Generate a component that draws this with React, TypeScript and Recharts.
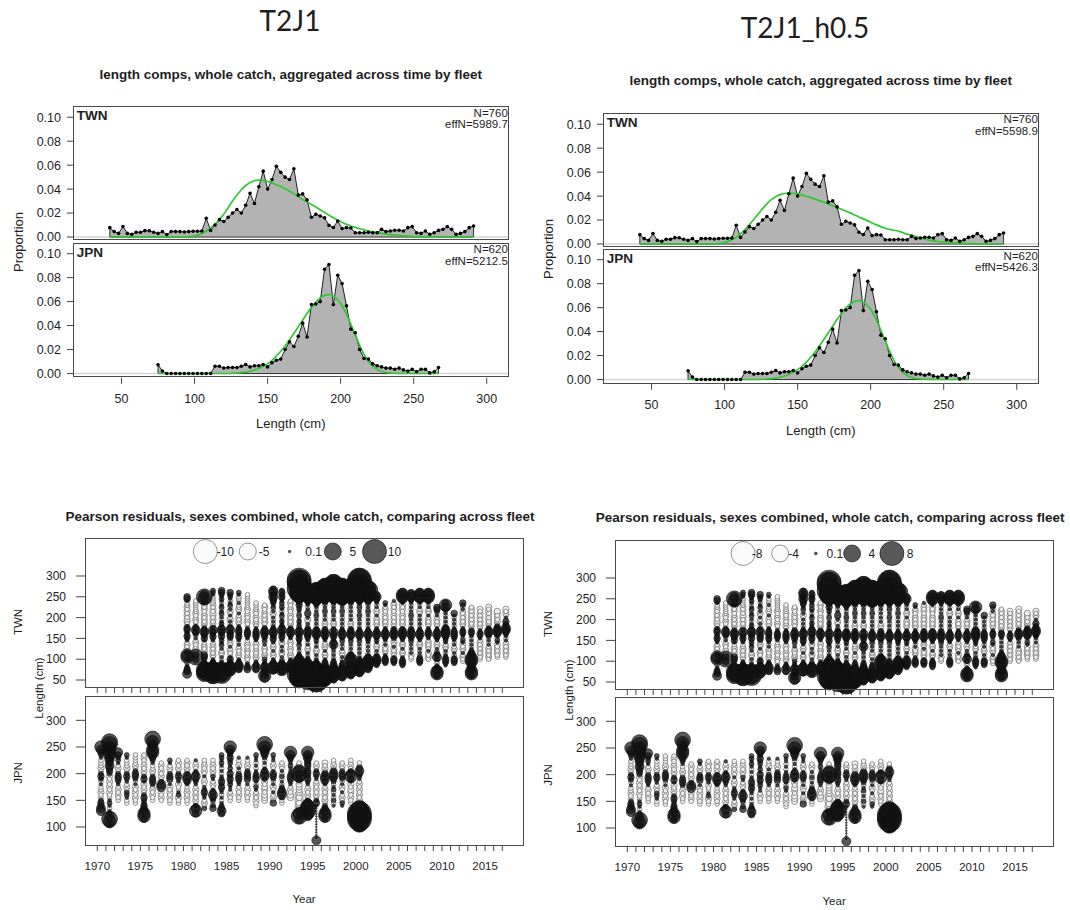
import React from "react";
import {
  Area,
  ComposedChart,
  Line,
  ReferenceLine,
  Scatter,
  ScatterChart,
  XAxis,
  YAxis,
  ZAxis,
} from "recharts";

const FONT = '"Liberation Sans", Arial, Helvetica, sans-serif';
const INK = "#1e1e1e";

// ---------- aggregated length comps (3 cm bins) ----------
const TWN_BINS = [
  42, 45, 48, 51, 54, 57, 60, 63, 66, 69, 72, 75, 78, 81, 84, 87, 90, 93, 96, 99,
  102, 105, 108, 111, 114, 117, 120, 123, 126, 129, 132, 135, 138, 141, 144, 147, 150, 153, 156, 159,
  162, 165, 168, 171, 174, 177, 180, 183, 186, 189, 192, 195, 198, 201, 204, 207, 210, 213, 216, 219,
  222, 225, 228, 231, 234, 237, 240, 243, 246, 249, 252, 255, 258, 261, 264, 267, 270, 273, 276, 279,
  282, 285, 288, 291,
];
const TWN_OBS = [
  0.0078, 0.0045, 0.003, 0.0087, 0.003, 0.0022, 0.004, 0.004, 0.0053, 0.0052,
  0.004, 0.003, 0.0045, 0.002, 0.0045, 0.0045, 0.0045, 0.0042, 0.0045, 0.0048,
  0.0048, 0.005, 0.0156, 0.0055, 0.01, 0.0145, 0.013, 0.0165, 0.02, 0.023,
  0.02, 0.0265, 0.0365, 0.028, 0.042, 0.055, 0.04, 0.048, 0.059, 0.054,
  0.05, 0.048, 0.057, 0.035, 0.036, 0.031, 0.0165, 0.019, 0.0176, 0.016,
  0.0098, 0.008, 0.0134, 0.007, 0.0078, 0.0075, 0.0036, 0.0036, 0.0036, 0.004,
  0.0036, 0.0036, 0.0064, 0.0045, 0.005, 0.0056, 0.0056, 0.005, 0.0078, 0.0087,
  0.0036, 0.003, 0.005, 0.0022, 0.0036, 0.0055, 0.0064, 0.0087, 0.0064, 0.0022,
  0.003, 0.0045, 0.0078, 0.0092,
];
// expected, run T2J1
const TWN_EXP_A = [
  0, 0, 0, 0, 0, 0, 0, 0, 0, 0,
  0, 0, 0, 0, 0, 0, 0, 0.0002, 0.0004, 0.0008,
  0.0016, 0.003, 0.005, 0.0075, 0.0105, 0.0145, 0.019, 0.0245, 0.03, 0.035,
  0.0395, 0.043, 0.0455, 0.047, 0.0475, 0.0472, 0.0465, 0.0452, 0.0437, 0.0421,
  0.0402, 0.0382, 0.036, 0.0337, 0.0312, 0.0295, 0.0272, 0.025, 0.0228, 0.0205,
  0.0182, 0.016, 0.014, 0.0122, 0.0106, 0.0092, 0.008, 0.0069, 0.0059, 0.005,
  0.0043, 0.0036, 0.003, 0.0025, 0.002, 0.0016, 0.0013, 0.001, 0.0008, 0.0006,
  0.0004, 0.0003, 0.0002, 0.0001, 0, 0, 0, 0, 0, 0,
  0, 0, 0, 0,
];
// expected, run T2J1_h0.5
const TWN_EXP_B = [
  0, 0, 0, 0, 0, 0, 0, 0, 0, 0,
  0, 0, 0, 0, 0, 0, 0, 0.0002, 0.0005, 0.001,
  0.002, 0.0035, 0.0055, 0.0085, 0.012, 0.016, 0.0205, 0.025, 0.0295, 0.0335,
  0.037, 0.0395, 0.0412, 0.0422, 0.0425, 0.0424, 0.0418, 0.041, 0.0399, 0.0387,
  0.0375, 0.0362, 0.0348, 0.0334, 0.032, 0.0305, 0.029, 0.0275, 0.026, 0.0243,
  0.0226, 0.021, 0.0193, 0.0176, 0.016, 0.0145, 0.0132, 0.0122, 0.0115, 0.0108,
  0.0095, 0.0082, 0.0075, 0.0062, 0.005, 0.004, 0.0032, 0.0026, 0.0021, 0.0017,
  0.0014, 0.0011, 0.0009, 0.0007, 0.0005, 0.0004, 0.0003, 0.0002, 0.0001, 0,
  0, 0, 0, 0,
];

const JPN_BINS = [
  75, 78, 81, 84, 87, 90, 93, 96, 99, 102, 105, 108, 111, 114, 117, 120, 123, 126, 129, 132,
  135, 138, 141, 144, 147, 150, 153, 156, 159, 162, 165, 168, 171, 174, 177, 180, 183, 186, 189, 192,
  195, 198, 201, 204, 207, 210, 213, 216, 219, 222, 225, 228, 231, 234, 237, 240, 243, 246, 249, 252,
  255, 258, 261, 264, 267,
];
const JPN_OBS = [
  0.0073, 0.002, 0, 0, 0, 0, 0, 0, 0, 0,
  0, 0, 0, 0.006, 0.006, 0.0045, 0.005, 0.005, 0.005, 0.006,
  0.0075, 0.0055, 0.0065, 0.0065, 0.0075, 0.0055, 0.009, 0.011, 0.012, 0.02,
  0.0265, 0.0225, 0.031, 0.042, 0.0305, 0.0575, 0.058, 0.06, 0.087, 0.091,
  0.0575, 0.082, 0.075, 0.0565, 0.037, 0.034, 0.02, 0.0125, 0.012, 0.008,
  0.0065, 0.0055, 0.0045, 0.0045, 0.0035, 0.0045, 0.003, 0.002, 0.0035, 0.0015,
  0.0035, 0.0035, 0.0005, 0.0015, 0.005,
];
const JPN_EXP = [
  0, 0, 0, 0, 0, 0, 0, 0, 0, 0,
  0, 0, 0, 0, 0, 0, 0, 0.0002, 0.0004, 0.0007,
  0.0012, 0.0019, 0.0029, 0.0042, 0.006, 0.0082, 0.011, 0.0145, 0.0185, 0.023,
  0.028, 0.0335, 0.039, 0.0445, 0.05, 0.055, 0.0595, 0.063, 0.0652, 0.0658,
  0.0645, 0.0615, 0.0565, 0.0495, 0.041, 0.032, 0.0235, 0.016, 0.0102, 0.006,
  0.0033, 0.0017, 0.0008, 0.0004, 0.0002, 0.0001, 0, 0, 0, 0,
  0, 0, 0, 0, 0,
];

// ---------- Pearson residuals ----------
// one string per year, one code per 5 cm bin (spaces only group the bins by 10)
// '.' none, '0'..'8' positive (growing), 'a'..'g' negative (growing)
const CODE_FRAC: Record<string, number> = {
  "0": 0.006, "1": 0.025, "2": 0.05, "3": 0.09, "4": 0.17, "5": 0.32, "6": 0.52, "7": 0.8, "8": 1.2,
  a: -0.045, b: -0.08, c: -0.14, d: -0.25, e: -0.4, f: -0.6, g: -0.9,
};

const TWN_YEARS = [
  1980, 1981, 1982, 1983, 1984, 1985, 1986, 1987, 1988, 1989, 1990, 1991, 1992, 1993, 1994, 1995,
  1996, 1997, 1998, 1999, 2000, 2001, 2002, 2003, 2004, 2005, 2006, 2007, 2008, 2009, 2010, 2011,
  2012, 2013, 2014, 2015, 2016, 2017,
];
const TWN_LEN_START = 45;
const TWN_RESID = [
  "....43321a a2552ababa 12321331ab babababaa1 33........ .",
  ".......... a363aabaab a1a23431aa baabaaaaaa .......... .",
  "...4666542 1233ababaa 1323432aba babaabab13 564....... .",
  "..36776543 21abababaa 1232342aba babbababaa aa122..... .",
  "...5775432 1a1aba1a21 2132343121 a1a21a21a1 21233..... .",
  ".....45543 231aaba1ab a2332431a1 ba1ab1a21a 1223...... .",
  "......3443 21abaaba1a 12323321ab aba1abaa1a aa12...... .",
  "......3321 aabaabaaba a123321aab aabaabaaaa aaa....... .",
  "......3432 1abaabaaba 1233321aba abaabaaaa. .......... .",
  "..45433432 12abaaba1a 2133432aab ababaaba.. .......... .",
  ".....24543 21aba1aba1 23234321a1 a1ab1a2123 343442.... .",
  ".....35543 2a1ab1a1ab 1232343212 1a21a12a21 23232..... .",
  "......3443 21abaabaab a123432aba babaabaaba .......... .",
  "4677877665 54321a1a21 2323431212 1a2a121323 4567787788 6",
  "5778776554 321a1aba1a 1233432a1a b1a3a1a123 455665.... .",
  "7887765543 21a1aba1a1 2134431a1a 1a2a1a1234 566765.... .",
  "4566554433 21aba1abaa 1234331aba 1a1a2a1a23 45677765.. .",
  ".345554433 21a1a1a243 1233421aba 1a1a2a1a23 456788776. .",
  "..34544332 1a1aba1a1a 2134321a1a 1a1a2a1a24 56777765.. .",
  "...3455444 55431a1a1a 2134331aba 1a1a1a1a23 45666655.. .",
  "....345544 321a1a1a1a 2134321a1a 1a2a1a2a23 4556677788 7",
  "......3445 5431a1a1a1 2234321a1a 1a1a2a1a23 4566765... .",
  "........23 4431a1aba1 2134321aba ba1aba1a12 343....... .",
  ".........2 3321abab1a 1234321aba babaaba12. .......... .",
  ".........2 331abab1ab a234331aba babaababa1 .......... .",
  "........23 321aba1aba 1234431aba babaabab12 4554...... .",
  ".......... .aab1a1a1a 2234331a1a 1a2a1a1a12 3443...... .",
  ".........2 332a1a1aba 1234321a1a 1a1aba1a12 4554...... .",
  ".......... .abab1abab a123321aba ba1aba1a12 4554...... .",
  "...355421a a2432a1aba 1234321aba ba1a233... .......... .",
  "........12 3321a1aba1 22344431a1 a1a1a2453. .......... .",
  ".........2 331a1aba1a 1233321a1a 1a13...... .......... .",
  ".......... aaba1abab1 2a12321aba babab1a23. .......... .",
  "...3554434 5544321a1a 1a1232abab abababa... .......... .",
  ".......... .aabababab a12321abab ababab.... .......... .",
  ".......... .abababa1a 1a23432aba bababab... .......... .",
  ".......... ..aababab1 2a134432ab ababb..... .......... .",
  ".......... ..aabababa 1a12344323 a1abab.... .......... .",
];

const JPN_YEARS = [
  1970, 1971, 1972, 1973, 1974, 1975, 1976, 1977, 1978, 1979, 1980, 1981, 1982, 1983, 1984, 1985,
  1986, 1987, 1988, 1989, 1990, 1991, 1992, 1993, 1994, 1995, 1996, 1997, 1998, 1999, 2000,
];
const JPN_LEN_START = 75;
const JPN_RESID = [
  ".......... .44332aaba a1a232abaa a12345....",
  "......3564 21a121aaba babab23343 44555566..",
  ".......... .....aabab a12332aba1 2234......",
  ".......... ....aa122a ba1232abaa a12.......",
  ".......... ....aababa b1a2332aba aaa.......",
  "........35 54332232ab ab132ababa aba.......",
  ".......... .....aabab a2332abaa1 234554456.",
  ".......... .....ababa 442abababa ..........",
  ".......... ....aababa b1a332aba1 2.........",
  ".......... ....aab21a ab1232abab a.........",
  ".......... ....aababa a13442abab a.........",
  ".......... 3542ababab a123431aba 1.........",
  ".......... ..2aba1232 1aba1ababa a.........",
  ".......... ..32a23431 aba12ababa a.........",
  ".......... 34321a1a12 32321a1a12 122.......",
  ".......... .....aaba1 1223231212 232345....",
  ".......... .....aabab a12332a1ba a1........",
  ".......... .....aabab a1a3332aba a1........",
  ".......... ...aababa1 2a13321a1a 112.......",
  ".......... .....bbbab bab24431a1 a234456...",
  ".......... ....3aba1a b1a2331aba 112.......",
  ".......... ....aa2443 2a1a2a1aba ..........",
  ".......... ......bbab a123321121 2345......",
  "........46 53bcbcbcbb bba3565bba ..........",
  ".........4 566542abab a123233233 3445......",
  "4000000000 000132abab aba1232aba ..........",
  "........35 5432ababab a13443abab ..........",
  ".......... ...1a2a1a2 1a23443aba a.........",
  ".......... ...12aba1a b1a2332aba ..........",
  ".......... ....aababb ab13542aba a.........",
  ".....46788 8763bbabab aba12343aa ..........",
];
const LEN_STEP = 5;
const SEASON = 0.42; // fleet timing inside the year

const YEAR_TICKS = [
  1970, 1971, 1972, 1973, 1974, 1975, 1976, 1977, 1978, 1979, 1980, 1981, 1982, 1983, 1984, 1985,
  1986, 1987, 1988, 1989, 1990, 1991, 1992, 1993, 1994, 1995, 1996, 1997, 1998, 1999, 2000, 2001,
  2002, 2003, 2004, 2005, 2006, 2007, 2008, 2009, 2010, 2011, 2012, 2013, 2014, 2015, 2016, 2017,
];
const YEAR_LABELS = [1970, 1975, 1980, 1985, 1990, 1995, 2000, 2005, 2010, 2015];
const LEGEND_A = [-10, -5, 0.1, 5, 10];
const LEGEND_B = [-8, -4, 0.1, 4, 8];

// ---------- layout ----------
const LC_X_DOMAIN: [number, number] = [16.8, 315.3];
const LC_X_TICKS = [50, 100, 150, 200, 250, 300];
const LC_Y_TICKS = [0, 0.02, 0.04, 0.06, 0.08, 0.1];
const LC = { x: 72.7, w: 436.1, twnY: 106, twnH: 134, jpnY: 242.5, jpnH: 134.8 };
const LC_TWN_DOMAIN: [number, number] = [-0.0025, 0.1094];
const LC_JPN_DOMAIN: [number, number] = [-0.0036, 0.1089];
const Y_W = 50;
const PAD = 8;

const BB = { x: 84.7, w: 439.7, twnY: 538, twnH: 150, jpnY: 695.7, jpnH: 150 };
const BB_X_DOMAIN: [number, number] = [1968.57, 2019.6];
const TWN_Y_DOMAIN: [number, number] = [30.8, 391.3];
const JPN_Y_DOMAIN: [number, number] = [64.4, 345.6];
const TWN_Y_TICKS = [50, 100, 150, 200, 250, 300];
const JPN_Y_TICKS = [100, 150, 200, 250, 300];
const BY_W = 70;
const AREA_MAX = Math.PI * 12 * 12;

type Pt = { x: number; y: number; size: number };

function buildBubbles(years: number[], rows: string[], start: number, maxResid: number) {
  const pos: Pt[] = [];
  const neg: Pt[] = [];
  years.forEach((yr, i) => {
    const codes = rows[i].replace(/ /g, "");
    for (let k = 0; k < codes.length; k++) {
      const f = CODE_FRAC[codes[k]];
      if (f === undefined) continue;
      const p = { x: yr + SEASON, y: start + LEN_STEP * k, size: Math.abs(f) * maxResid };
      (f > 0 ? pos : neg).push(p);
    }
  });
  pos.sort((a, b) => b.size - a.size);
  neg.sort((a, b) => b.size - a.size);
  return { pos, neg };
}

type TxtProps = {
  x: number;
  y: number;
  children: React.ReactNode;
  size?: number;
  bold?: boolean;
  anchor?: "start" | "middle" | "end";
  rotate?: boolean;
  font?: string;
};

function Txt({ x, y, children, size = 12, bold = false, anchor = "middle", rotate = false, font = FONT }: TxtProps) {
  const tx = anchor === "middle" ? "-50%" : anchor === "end" ? "-100%" : "0";
  return (
    <div
      style={{
        position: "absolute",
        left: x,
        top: y,
        transform: `translate(${tx}, -50%)${rotate ? " rotate(-90deg)" : ""}`,
        fontFamily: font,
        fontSize: size,
        fontWeight: bold ? 700 : 400,
        color: INK,
        whiteSpace: "nowrap",
        lineHeight: 1,
      }}
    >
      {children}
    </div>
  );
}

function Frame({ x, y, w, h }: { x: number; y: number; w: number; h: number }) {
  return (
    <div
      style={{
        position: "absolute",
        left: x,
        top: y,
        width: w,
        height: h,
        border: "1px solid #4a4a4a",
        boxSizing: "border-box",
        pointerEvents: "none",
      }}
    />
  );
}

const tickStyle = (size: number) => ({ fill: INK, fontSize: size, fontFamily: FONT });

type CompProps = {
  x: number;
  y: number;
  w: number;
  h: number;
  bins: number[];
  obs: number[];
  exp: number[];
  yDomain: [number, number];
  showX: boolean;
  fleet: string;
  n: string;
  effN: string;
};

function CompPanel(p: CompProps) {
  const data = p.bins.map((len, i) => ({ len, obs: p.obs[i], exp: p.exp[i] }));
  const xh = p.showX ? 34 : 0;
  const first = p.bins[0];
  const last = p.bins[p.bins.length - 1];
  return (
    <>
      <div style={{ position: "absolute", left: p.x - Y_W, top: p.y - PAD }}>
        <ComposedChart
          width={p.w + Y_W}
          height={p.h + xh + 2 * PAD}
          data={data}
          margin={{ top: PAD, right: 0, bottom: PAD, left: 0 }}
        >
          <XAxis
            dataKey="len"
            type="number"
            domain={LC_X_DOMAIN}
            ticks={LC_X_TICKS}
            interval={0}
            allowDataOverflow
            hide={!p.showX}
            height={xh}
            axisLine={false}
            tickSize={6}
            tickMargin={10}
            tickLine={{ stroke: "#444" }}
            tick={tickStyle(12.5)}
          />
          <YAxis
            type="number"
            domain={p.yDomain}
            ticks={LC_Y_TICKS}
            interval={0}
            allowDataOverflow
            width={Y_W}
            axisLine={false}
            tickSize={6}
            tickMargin={6}
            tickLine={{ stroke: "#444" }}
            tick={tickStyle(12.5)}
            tickFormatter={(v: number) => v.toFixed(2)}
          />
          <ReferenceLine y={0} stroke="#d4d4d4" strokeWidth={1.5} />
          <Area
            type="linear"
            dataKey="obs"
            baseValue={0}
            fill="#b3b3b3"
            fillOpacity={1}
            stroke="#202020"
            strokeWidth={1}
            dot={{ r: 1.8, fill: "#000", stroke: "none" }}
            isAnimationActive={false}
          />
          <ReferenceLine segment={[{ x: first, y: 0 }, { x: last, y: 0 }]} stroke="#333" />
          <ReferenceLine segment={[{ x: first, y: 0 }, { x: first, y: p.obs[0] }]} stroke="#333" />
          <ReferenceLine segment={[{ x: last, y: 0 }, { x: last, y: p.obs[p.obs.length - 1] }]} stroke="#333" />
          <Line
            type="monotone"
            dataKey="exp"
            stroke="#2fc82f"
            strokeWidth={1.7}
            dot={false}
            isAnimationActive={false}
          />
        </ComposedChart>
      </div>
      <Frame x={p.x} y={p.y} w={p.w} h={p.h} />
      <Txt x={p.x + 4} y={p.y + 10} size={13.5} bold anchor="start">
        {p.fleet}
      </Txt>
      <Txt x={p.x + p.w - 1} y={p.y + 7.5} size={11.5} anchor="end">
        {p.n}
      </Txt>
      <Txt x={p.x + p.w - 1} y={p.y + 19} size={11.5} anchor="end">
        {p.effN}
      </Txt>
    </>
  );
}

function LengthComps({ dx, dy, twnExp, twnEff, jpnEff }: { dx: number; dy: number; twnExp: number[]; twnEff: string; jpnEff: string }) {
  return (
    <>
      <Txt x={290.8 + dx} y={75 + dy * 0.9} bold size={13.5}>
        length comps, whole catch, aggregated across time by fleet
      </Txt>
      <CompPanel
        x={LC.x + dx}
        y={LC.twnY + dy}
        w={LC.w}
        h={LC.twnH}
        bins={TWN_BINS}
        obs={TWN_OBS}
        exp={twnExp}
        yDomain={LC_TWN_DOMAIN}
        showX={false}
        fleet="TWN"
        n="N=760"
        effN={twnEff}
      />
      <CompPanel
        x={LC.x + dx}
        y={LC.jpnY + dy}
        w={LC.w}
        h={LC.jpnH}
        bins={JPN_BINS}
        obs={JPN_OBS}
        exp={JPN_EXP}
        yDomain={LC_JPN_DOMAIN}
        showX
        fleet="JPN"
        n="N=620"
        effN={jpnEff}
      />
      <Txt x={18 + dx} y={241.7 + dy} size={13} rotate>
        Proportion
      </Txt>
      <Txt x={290.8 + dx} y={423.3 + dy} size={13}>
        Length (cm)
      </Txt>
    </>
  );
}

type BubbleProps = {
  x: number;
  y: number;
  w: number;
  h: number;
  pos: Pt[];
  neg: Pt[];
  yDomain: [number, number];
  yTicks: number[];
  maxResid: number;
  yearLabels: boolean;
};

function BubblePanel(p: BubbleProps) {
  const xh = p.yearLabels ? 32 : 6;
  return (
    <>
      <div style={{ position: "absolute", left: p.x - BY_W, top: p.y }}>
        <ScatterChart width={p.w + BY_W} height={p.h + xh} margin={{ top: 0, right: 0, bottom: 0, left: 0 }}>
          <XAxis
            dataKey="x"
            type="number"
            domain={BB_X_DOMAIN}
            ticks={YEAR_TICKS}
            interval={0}
            height={xh}
            axisLine={false}
            tickSize={5}
            tickMargin={p.yearLabels ? 11 : 0}
            tickLine={{ stroke: "#444" }}
            tick={tickStyle(11.5)}
            tickFormatter={(v: number) => (p.yearLabels && YEAR_LABELS.includes(v) ? String(v) : "")}
          />
          <YAxis
            dataKey="y"
            type="number"
            domain={p.yDomain}
            ticks={p.yTicks}
            interval={0}
            width={BY_W}
            axisLine={false}
            tickSize={9}
            tickMargin={10}
            tickLine={{ stroke: "#444" }}
            tick={tickStyle(12)}
          />
          <ZAxis dataKey="size" type="number" domain={[0, p.maxResid]} range={[0, AREA_MAX]} />
          <Scatter
            data={p.neg}
            shape="circle"
            fill="#f3f3f3"
            fillOpacity={0.85}
            stroke="#777"
            strokeWidth={0.8}
            isAnimationActive={false}
          />
          <Scatter
            data={p.pos}
            shape="circle"
            fill="#111"
            fillOpacity={0.7}
            stroke="#111"
            strokeOpacity={0.8}
            strokeWidth={0.8}
            isAnimationActive={false}
          />
        </ScatterChart>
      </div>
      <Frame x={p.x} y={p.y} w={p.w} h={p.h} />
    </>
  );
}

function BubbleLegend({ x, y, values, maxResid, cxs, txs }: { x: number; y: number; values: number[]; maxResid: number; cxs: number[]; txs: number[] }) {
  return (
    <svg style={{ position: "absolute", left: x, top: y, overflow: "visible" }} width={340} height={30}>
      {values.map((v, i) => {
        const r = Math.sqrt(((Math.abs(v) / maxResid) * AREA_MAX) / Math.PI);
        return (
          <g key={i}>
            <circle
              cx={cxs[i]}
              cy={13.5}
              r={r}
              fill={v > 0 ? "rgba(17,17,17,0.7)" : "#fbfbfb"}
              stroke={v > 0 ? "rgba(17,17,17,0.8)" : "#777"}
              strokeWidth={0.8}
            />
            <text x={txs[i]} y={13.5} dy="0.36em" textAnchor="middle" fontFamily={FONT} fontSize={12} fill={INK}>
              {String(v)}
            </text>
          </g>
        );
      })}
    </svg>
  );
}

function Residuals({ dx, dy, maxResid, legend, cxs, txs }: { dx: number; dy: number; maxResid: number; legend: number[]; cxs: number[]; txs: number[] }) {
  const twn = buildBubbles(TWN_YEARS, TWN_RESID, TWN_LEN_START, maxResid);
  const jpn = buildBubbles(JPN_YEARS, JPN_RESID, JPN_LEN_START, maxResid);
  return (
    <>
      <Txt x={300 + dx} y={516.7 + dy} bold size={13.5}>
        Pearson residuals, sexes combined, whole catch, comparing across fleet
      </Txt>
      <BubblePanel
        x={BB.x + dx}
        y={BB.twnY + dy}
        w={BB.w}
        h={BB.twnH}
        pos={twn.pos}
        neg={twn.neg}
        yDomain={TWN_Y_DOMAIN}
        yTicks={TWN_Y_TICKS}
        maxResid={maxResid}
        yearLabels={false}
      />
      <BubblePanel
        x={BB.x + dx}
        y={BB.jpnY + dy}
        w={BB.w}
        h={BB.jpnH}
        pos={jpn.pos}
        neg={jpn.neg}
        yDomain={JPN_Y_DOMAIN}
        yTicks={JPN_Y_TICKS}
        maxResid={maxResid}
        yearLabels
      />
      <BubbleLegend x={BB.x + dx} y={BB.twnY + dy} values={legend} maxResid={maxResid} cxs={cxs} txs={txs} />
      <Txt x={19 + dx} y={622 + dy} size={11.5} rotate>
        TWN
      </Txt>
      <Txt x={19 + dx} y={773 + dy} size={11.5} rotate>
        JPN
      </Txt>
      <Txt x={40 + dx} y={688 + dy} size={11.5} rotate>
        Length (cm)
      </Txt>
      <Txt x={304 + dx} y={900 + dy} size={11.5}>
        Year
      </Txt>
    </>
  );
}

export default function App() {
  return (
    <div
      style={{
        position: "absolute",
        left: 0,
        top: 0,
        width: 1070,
        height: 910,
        background: "#fff",
        overflow: "hidden",
        fontFamily: FONT,
      }}
    >
      <Txt x={290} y={20} size={28} font='Lato, "Open Sans", sans-serif'>
        T2J1
      </Txt>
      <Txt x={805} y={27} size={28} font='Lato, "Open Sans", sans-serif'>
        T2J1_h0.5
      </Txt>
      <LengthComps dx={0} dy={0} twnExp={TWN_EXP_A} twnEff="effN=5989.7" jpnEff="effN=5212.5" />
      <LengthComps dx={530} dy={6.8} twnExp={TWN_EXP_B} twnEff="effN=5598.9" jpnEff="effN=5426.3" />
      <Residuals
        dx={0}
        dy={0}
        maxResid={10}
        legend={LEGEND_A}
        cxs={[120.3, 162.8, 204.6, 247.8, 289.5]}
        txs={[140.3, 179, 228.6, 267.8, 309.5]}
      />
      <Residuals
        dx={530.1}
        dy={1.5}
        maxResid={8}
        legend={LEGEND_B}
        cxs={[128.1, 165.1, 200.8, 237.1, 276.9]}
        txs={[142, 178.7, 219.8, 256.9, 295]}
      />
    </div>
  );
}
